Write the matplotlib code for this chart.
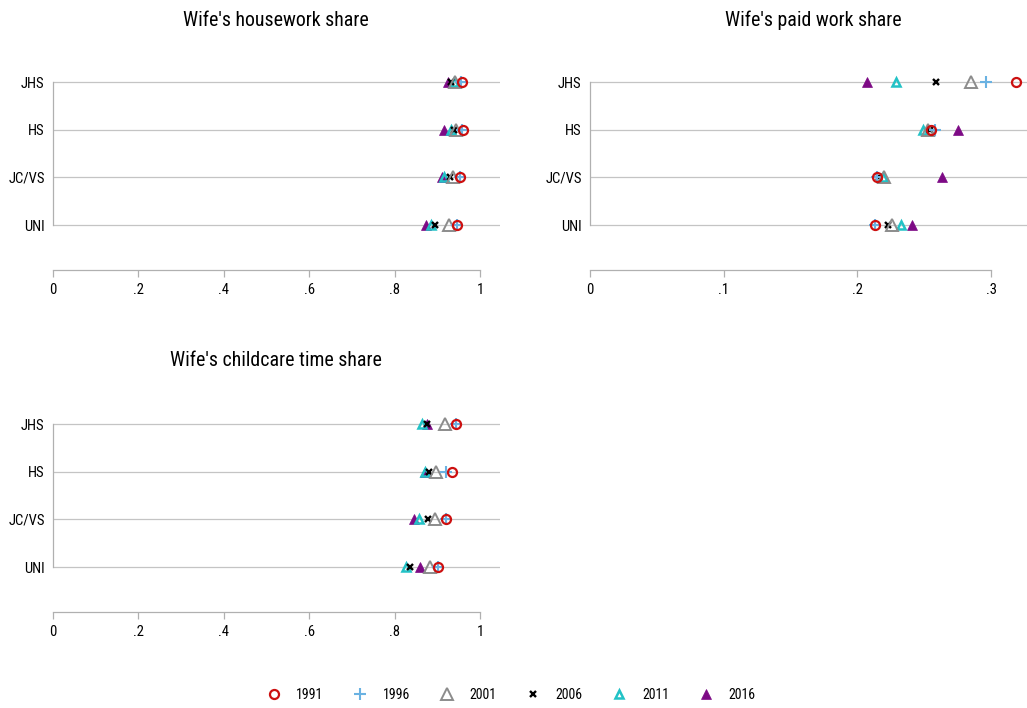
import matplotlib
matplotlib.use("Agg")
import matplotlib.pyplot as plt
from matplotlib.lines import Line2D

plt.rcParams["font.family"] = ["Roboto Condensed", "Liberation Sans", "DejaVu Sans"]

# Education groups (top to bottom) and survey years
categories = ["JHS", "HS", "JC/VS", "UNI"]
years = [1991, 1996, 2001, 2006, 2011, 2016]

# Wife's housework share, one list per year (JHS, HS, JC/VS, UNI)
housework = [
    [0.957, 0.959, 0.953, 0.946],
    [0.955, 0.957, 0.952, 0.945],
    [0.942, 0.944, 0.936, 0.928],
    [0.932, 0.938, 0.930, 0.895],
    [0.938, 0.931, 0.916, 0.885],
    [0.924, 0.916, 0.910, 0.873],
]

# Wife's paid work share
paidwork = [
    [0.319, 0.255, 0.215, 0.213],
    [0.296, 0.258, 0.215, 0.213],
    [0.285, 0.253, 0.220, 0.226],
    [0.259, 0.254, 0.216, 0.223],
    [0.229, 0.249, 0.219, 0.233],
    [0.207, 0.2755, 0.263, 0.241],
]

# Wife's childcare time share
childcare = [
    [0.943, 0.934, 0.920, 0.902],
    [0.943, 0.920, 0.920, 0.902],
    [0.919, 0.898, 0.895, 0.884],
    [0.876, 0.881, 0.878, 0.837],
    [0.863, 0.872, 0.856, 0.827],
    [0.877, 0.870, 0.845, 0.859],
]

share_ticks = [0, 0.2, 0.4, 0.6, 0.8, 1.0]
share_ticklabels = ["0", ".2", ".4", ".6", ".8", "1"]
paid_ticks = [0, 0.1, 0.2, 0.3]
paid_ticklabels = ["0", ".1", ".2", ".3"]

titles = ["Wife's housework share", "Wife's paid work share", "Wife's childcare time share"]

# Marker style per year
styles = [
    dict(marker="o", ms=6.5, mfc="none", mec="#cc1010", mew=1.6),
    dict(marker="+", ms=8.5, mec="#6ab2e2", mew=1.5),
    dict(marker="^", ms=8.5, mfc="none", mec="#8c8c8c", mew=1.4),
    dict(marker="x", ms=4.8, mec="#000000", mew=1.7),
    dict(marker="^", ms=6.0, mfc="none", mec="#22c2c6", mew=1.8),
    dict(marker="^", ms=7.0, mfc="#7d0a85", mec="#7d0a85", mew=0.5),
]

W, H = 1027, 708
fig = plt.figure(figsize=(W / 100, H / 100), dpi=100)

grid_col = "#c4c4c4"
spine_col = "#b0b0b0"
ypos = [3, 2, 1, 0]
row_px = 47.67


def add_panel(px_left, px_right, px_axis, px_top_row, x0_px, scale_px,
              data, ticks, ticklabels, xbound, title, title_x, title_y):
    # axes box in pixel units -> figure fractions
    bottom = px_axis
    top = px_top_row - 22
    ax = fig.add_axes([px_left / W, 1 - bottom / H,
                       (px_right - px_left) / W, (bottom - top) / H])
    xmin = (px_left - x0_px) / scale_px
    xmax = (px_right - x0_px) / scale_px
    ax.set_xlim(xmin, xmax)
    ymin = -(px_axis - (px_top_row + 3 * row_px)) / row_px
    ymax = 3 + 22 / row_px
    ax.set_ylim(ymin, ymax)

    for y in ypos:
        ax.axhline(y, color=grid_col, lw=0.9, zorder=1)

    # draw later years first so 1991 ends up on top
    for vals, st in reversed(list(zip(data, styles))):
        ax.plot(vals, ypos, linestyle="none", zorder=3, clip_on=False, **st)

    for s in ("top", "right"):
        ax.spines[s].set_visible(False)
    ax.spines["left"].set_bounds(0, 3)
    ax.spines["left"].set_color(spine_col)
    ax.spines["left"].set_linewidth(0.9)
    ax.spines["bottom"].set_bounds(*xbound)
    ax.spines["bottom"].set_color(spine_col)
    ax.spines["bottom"].set_linewidth(0.9)

    ax.set_yticks(ypos)
    ax.set_yticklabels(categories, fontsize=10.5)
    ax.tick_params(axis="y", length=0, pad=6)
    ax.set_xticks(ticks)
    ax.set_xticklabels(ticklabels, fontsize=10.5)
    ax.tick_params(axis="x", length=5, width=0.9, color=spine_col, pad=4)

    fig.text(title_x / W, 1 - title_y / H, title, fontsize=14.3,
             ha="center", va="center")
    return ax


add_panel(53, 500, 270, 82, 52.5, 427.5, housework,
          share_ticks, share_ticklabels, (0, 1), titles[0], 275.5, 20)
add_panel(590, 1027, 270, 82, 590, 1336.7, paidwork,
          paid_ticks, paid_ticklabels, (0, 0.3), titles[1], 813.5, 20)
add_panel(53, 500, 612, 424, 52.5, 427.5, childcare,
          share_ticks, share_ticklabels, (0, 1), titles[2], 275.5, 360)

handles = [Line2D([], [], linestyle="none", **st) for st in styles]
fig.legend(handles, [str(y) for y in years], ncol=6, loc="center",
           bbox_to_anchor=(511 / W, 1 - 695 / H), frameon=False,
           fontsize=10, handlelength=1.0, handletextpad=1.15,
           columnspacing=2.12, borderpad=0)

fig.savefig("out.png", dpi=100)
